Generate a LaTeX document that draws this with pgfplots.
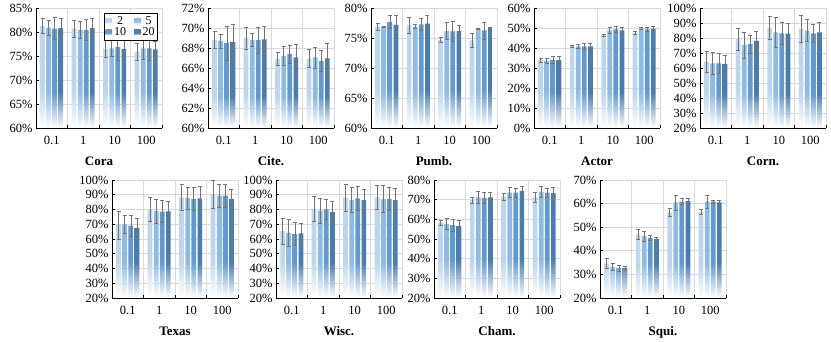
\documentclass[border=0pt]{standalone}
\usepackage{fontspec}
\setmainfont{Liberation Serif}
\usepackage{pgfplots}
\usepackage{pgfplotstable}
\pgfplotsset{compat=1.18}

\definecolor{c2}{RGB}{190,214,237}
\definecolor{c5}{RGB}{143,186,226}
\definecolor{c10}{RGB}{98,153,206}
\definecolor{c20}{RGB}{74,124,174}
\definecolor{errgray}{RGB}{115,115,115}
\definecolor{gridgray}{RGB}{217,217,217}

% bars fade to white over the lower part
\pgfdeclareverticalshading{sh2}{100bp}{color(0bp)=(white); color(25bp)=(white); color(43bp)=(c2); color(100bp)=(c2)}
\pgfdeclareverticalshading{sh5}{100bp}{color(0bp)=(white); color(25bp)=(white); color(43bp)=(c5); color(100bp)=(c5)}
\pgfdeclareverticalshading{sh10}{100bp}{color(0bp)=(white); color(25bp)=(white); color(43bp)=(c10); color(100bp)=(c10)}
\pgfdeclareverticalshading{sh20}{100bp}{color(0bp)=(white); color(25bp)=(white); color(43bp)=(c20); color(100bp)=(c20)}

% x: 0=0.1, 1=1, 2=10, 3=100
\pgfplotstableread{
x y2 e2 y5 e5 y10 e10 y20 e20
0 81.3 1.5 80.9 1.6 80.7 2.3 80.8 2.0
1 80.7 1.8 80.4 1.8 80.4 2.2 80.8 2.0
2 76.5 1.7 76.6 1.7 76.9 2.8 76.5 2.5
3 75.9 1.8 76.6 2.2 76.6 2.4 76.4 1.6
}\tCora
\pgfplotstableread{
x y2 e2 y5 e5 y10 e10 y20 e20
0 68.8 0.85 68.7 0.7 68.5 1.7 68.6 1.8
1 69.0 1.1 68.8 0.65 68.8 1.3 68.85 1.3
2 66.9 0.65 67.2 0.95 67.4 0.9 67.05 1.35
3 66.95 0.9 67.05 1.05 66.7 1.05 66.95 1.5
}\tCite
\pgfplotstableread{
x y2 e2 y5 e5 y10 e10 y20 e20
0 76.9 0.55 76.8 0.1 77.7 1.1 77.2 1.6
1 77.15 1.35 76.9 0.3 77.25 1.0 77.4 1.4
2 74.7 0.45 76.15 1.45 76.1 1.7 76.15 0.9
3 74.6 1.1 76.5 0.1 76.25 1.4 76.7 0.1
}\tPumb
\pgfplotstableread{
x y2 e2 y5 e5 y10 e10 y20 e20
0 33.9 1.0 33.6 1.2 34.1 1.7 33.9 1.7
1 40.8 0.5 40.8 1.0 40.8 1.3 40.8 1.5
2 46.3 0.5 48.8 1.3 49.3 1.4 48.8 1.5
3 47.6 0.7 49.7 0.6 49.3 1.1 49.5 1.2
}\tActor
\pgfplotstableread{
x y2 e2 y5 e5 y10 e10 y20 e20
0 64.1 7.3 63.0 7.2 63.0 6.8 62.8 5.4
1 79.2 7.1 75.4 8.7 75.9 5.9 78.1 6.5
2 86.7 7.9 83.7 9.8 83.1 7.3 82.9 7.0
3 86.2 9.0 84.9 7.3 83.1 6.2 83.7 6.5
}\tCorn
\pgfplotstableread{
x y2 e2 y5 e5 y10 e10 y20 e20
0 69.4 9.3 69.9 6.2 69.0 7.4 67.6 6.5
1 80.1 8.2 79.0 8.2 78.5 7.5 78.7 6.6
2 88.3 9.1 87.8 7.5 87.1 7.9 87.6 8.2
3 90.3 9.2 89.4 7.9 89.4 7.8 87.1 6.8
}\tTexas
\pgfplotstableread{
x y2 e2 y5 e5 y10 e10 y20 e20
0 65.4 8.7 64.4 9.1 63.3 7.7 63.8 6.8
1 80.3 8.5 79.2 8.7 80.1 6.5 78.3 7.1
2 88.0 9.0 86.4 8.6 87.6 8.3 86.4 7.6
3 88.3 7.9 87.1 9.2 87.1 7.9 86.4 7.9
}\tWisc
\pgfplotstableread{
x y2 e2 y5 e5 y10 e10 y20 e20
0 58.4 1.3 57.6 2.8 57.1 3.1 56.7 2.8
1 69.8 1.5 71.2 3.0 70.9 2.6 71.2 2.5
2 71.5 1.7 73.6 2.6 73.6 2.4 74.3 2.7
3 71.2 2.3 73.9 2.7 73.6 2.3 73.4 2.7
}\tCham
\pgfplotstableread{
x y2 e2 y5 e5 y10 e10 y20 e20
0 34.6 2.1 33.2 1.6 32.7 1.2 32.7 0.7
1 46.9 2.0 46.3 2.1 45.5 1.2 44.9 0.8
2 56.3 1.7 60.5 3.2 60.8 1.3 61.1 1.1
3 56.5 1.2 60.8 2.8 60.8 0.8 60.5 1.0
}\tSqui

\pgfplotsset{
  /pgf/number format/assume math mode=true,
  panel/.style={
    scale only axis, width=126pt, anchor=south west,
    ybar, bar width=4.7pt,
    xmin=-0.5, xmax=3.5,
    xtick={0,1,2,3}, xticklabels={0.1,1,10,100},
    minor xtick={-0.5,0.5,1.5,2.5,3.5},
    xminorgrids=true, xmajorgrids=false, ymajorgrids=true,
    grid style={draw=gridgray, line width=0.6pt},
    minor grid style={draw=gridgray, line width=0.6pt},
    axis x line*=bottom, axis y line*=left,
    axis line style={-, black, line width=0.8pt},
    major x tick style={draw=none},
    minor tick length=3pt, major tick length=3pt,
    tick style={black, line width=0.6pt},
    tick align=inside,
    yticklabel={\pgfmathprintnumber{\tick}\%},
    ticklabel style={font=\fontsize{12.5}{13}\selectfont},
    xticklabel style={yshift=-5pt},
    xlabel style={font=\fontsize{13}{14}\selectfont\bfseries, yshift=-5pt},
  },
  bars/.style 2 args={bar shift=#2, draw=none, shade, shading=sh#1,
    legend image code/.code={\fill[c#1] (0pt,-2.6pt) rectangle (6.5pt,3pt);}},
  errs/.style={bar shift=#1, draw=none, fill=none, forget plot,
    error bars/y dir=both, error bars/y explicit,
    error bars/error bar style={draw=errgray, line width=0.6pt},
    error bars/error mark options={rotate=90, draw=errgray, line width=0.6pt, mark size=2pt}},
}

% #1 x, #2 y, #3 height, #4 ymin, #5 ymax, #6 ystep, #7 title, #8 table, #9 extra
\newcommand{\panel}[9]{%
\begin{axis}[panel, at={(#1pt,#2pt)}, height=#3pt, ymin=#4, ymax=#5,
  ytick distance=#6, xlabel={#7}, #9]
\addplot[bars={2}{-9.15pt}] table[x=x,y=y2]{#8};
\addplot[bars={5}{-3.05pt}] table[x=x,y=y5]{#8};
\addplot[bars={10}{3.05pt}] table[x=x,y=y10]{#8};
\addplot[bars={20}{9.15pt}] table[x=x,y=y20]{#8};
\addplot[errs=-9.15pt] table[x=x,y=y2,y error=e2]{#8};
\addplot[errs=-3.05pt] table[x=x,y=y5,y error=e5]{#8};
\addplot[errs=3.05pt] table[x=x,y=y10,y error=e10]{#8};
\addplot[errs=9.15pt] table[x=x,y=y20,y error=e20]{#8};
\end{axis}}

\begin{document}
\begin{tikzpicture}
\useasboundingbox (0,0) rectangle (831pt,342pt);
\panel{36}{214}{120}{60}{85}{5}{Cora}{\tCora}{legend columns=2,
  legend entries={2,5,10,20},
  legend style={at={(1,1)}, anchor=north east, xshift=-4pt, yshift=-5pt,
    draw=black, line width=0.6pt, fill=white, inner sep=1pt,
    font=\fontsize{12}{12}\selectfont, row sep=-2pt,
    /tikz/every even column/.append style={column sep=6pt}}}
\panel{208}{214}{120}{60}{72}{2}{Cite.}{\tCite}{}
\panel{371}{214}{120}{60}{80}{5}{Pumb.}{\tPumb}{}
\panel{534}{214}{120}{0}{60}{10}{Actor}{\tActor}{}
\panel{700}{214}{120}{20}{100}{10}{Corn.}{\tCorn}{}
\panel{112}{44}{118}{20}{100}{10}{Texas}{\tTexas}{}
\panel{276}{44}{118}{20}{100}{10}{Wisc.}{\tWisc}{}
\panel{434}{44}{118}{20}{80}{10}{Cham.}{\tCham}{}
\panel{600}{44}{118}{20}{70}{10}{Squi.}{\tSqui}{}
\end{tikzpicture}
\end{document}
